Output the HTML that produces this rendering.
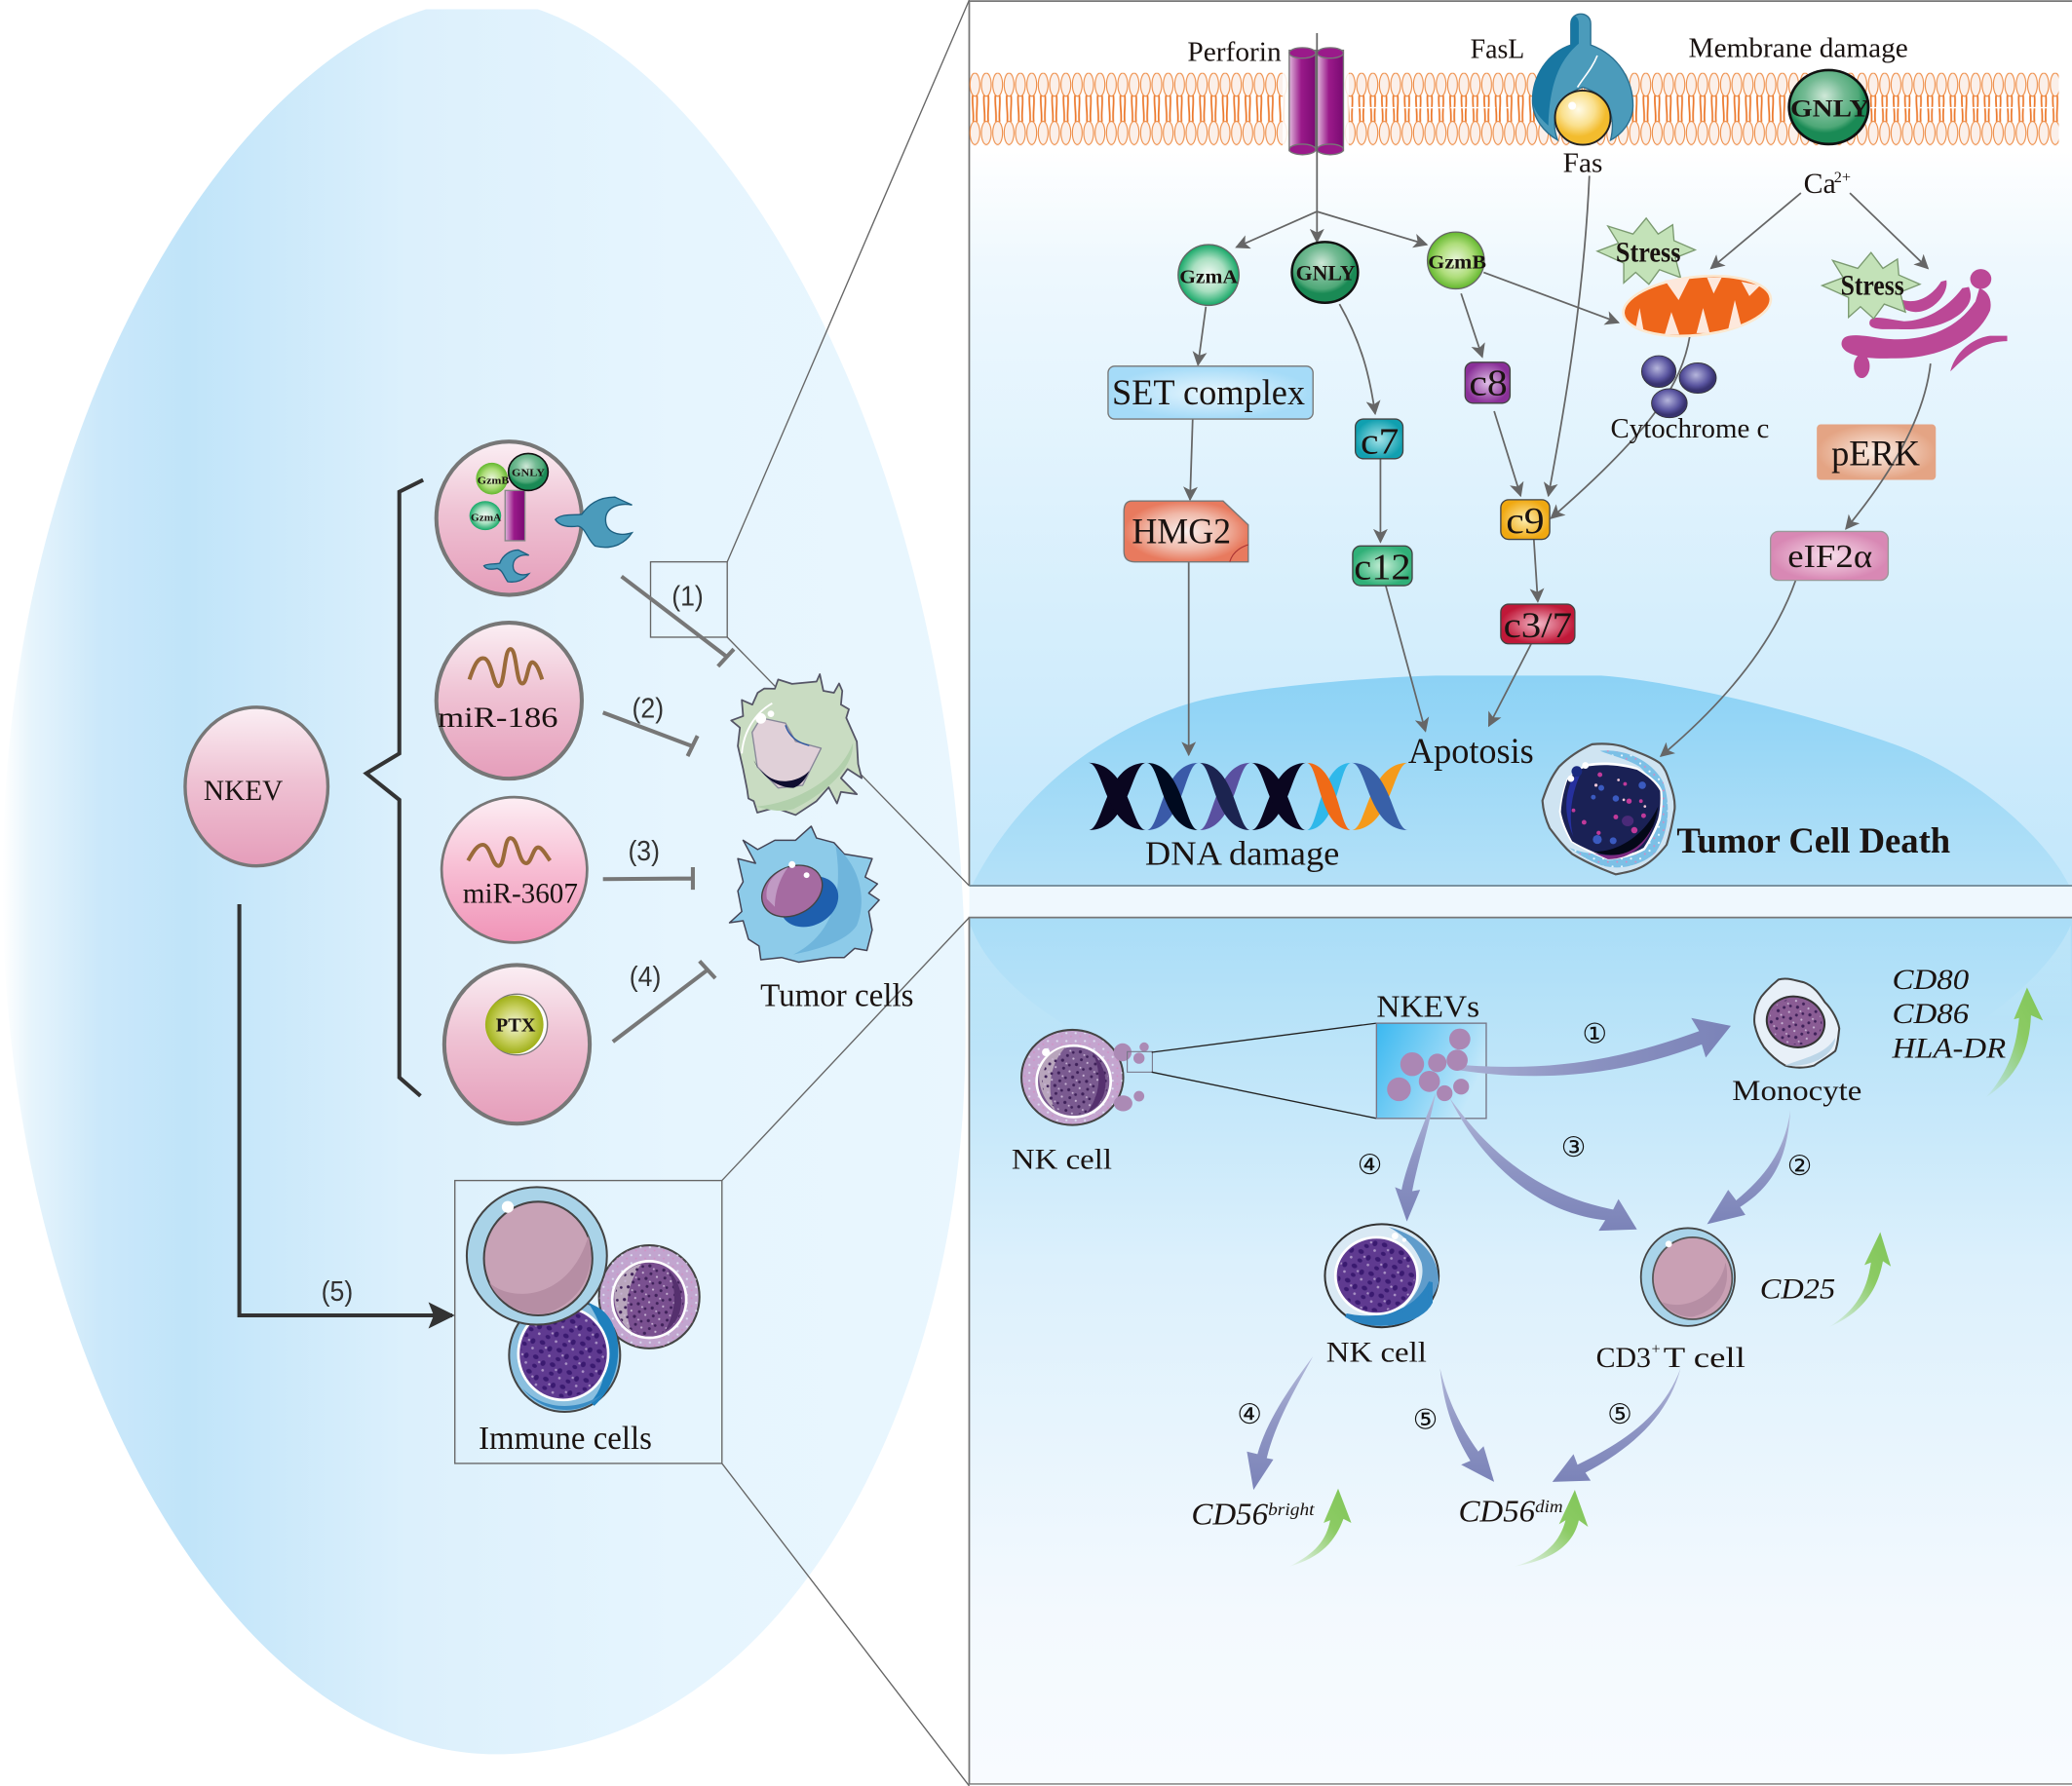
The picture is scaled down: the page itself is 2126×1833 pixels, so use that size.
<!DOCTYPE html>
<html lang="en"><head><meta charset="utf-8"><title>NKEV diagram</title>
<style>html,body{margin:0;padding:0;background:#fff}svg{display:block}text{font-family:"Liberation Serif",serif;fill:#1a1311}.s{font-family:"Liberation Sans",sans-serif;fill:#333}.c{font-family:"DejaVu Sans",sans-serif;fill:#111}</style></head>
<body>
<svg xmlns="http://www.w3.org/2000/svg" width="2126" height="1833" viewBox="0 0 1567 1351">
<defs>
<clipPath id="topclip"><rect x="-5" y="7" width="760" height="1344"/></clipPath>
<linearGradient id="bigbg" x1="0" x2="1" y1="0" y2="0"><stop offset="0" stop-color="#fff"/><stop offset=".03" stop-color="#e6f4fc"/><stop offset=".1" stop-color="#cbe8fa"/><stop offset=".19" stop-color="#c0e4f9"/><stop offset=".42" stop-color="#dcf0fc"/><stop offset=".7" stop-color="#e6f5fe"/><stop offset="1" stop-color="#e9f6fe"/></linearGradient>
<linearGradient id="topbg" x1="0" x2="0" y1="0" y2="1"><stop offset="0" stop-color="#fff"/><stop offset=".17" stop-color="#fff"/><stop offset=".3" stop-color="#eef8fe"/><stop offset="1" stop-color="#c3e7fb"/></linearGradient>
<linearGradient id="dome" x1="0" x2="0" y1="0" y2="1"><stop offset="0" stop-color="#8cd2f5"/><stop offset="1" stop-color="#b4e1f8"/></linearGradient>
<linearGradient id="botbg" x1="0" x2="0" y1="0" y2="1"><stop offset="0" stop-color="#a9ddf7"/><stop offset=".4" stop-color="#dcf0fc"/><stop offset=".8" stop-color="#f3f9fe"/><stop offset="1" stop-color="#f8fbff"/></linearGradient>
<linearGradient id="corner" x1="0" x2="0" y1="0" y2="1"><stop offset="0" stop-color="#fff" stop-opacity=".22"/><stop offset="1" stop-color="#fff" stop-opacity="0"/></linearGradient>
<linearGradient id="pink" x1="0" x2="0" y1="0" y2="1"><stop offset="0" stop-color="#fbeff4"/><stop offset=".45" stop-color="#efc3d4"/><stop offset="1" stop-color="#e59dba"/></linearGradient>
<linearGradient id="pink2" x1="0" x2="0" y1="0" y2="1"><stop offset="0" stop-color="#fdeef4"/><stop offset=".5" stop-color="#f7bdd3"/><stop offset="1" stop-color="#f093b7"/></linearGradient>
<radialGradient id="gA"><stop offset="0" stop-color="#f4fbf6"/><stop offset=".55" stop-color="#a8dfc0"/><stop offset="1" stop-color="#16a868"/></radialGradient>
<radialGradient id="gB"><stop offset="0" stop-color="#eaf6dc"/><stop offset=".6" stop-color="#aedd7a"/><stop offset="1" stop-color="#64b82e"/></radialGradient>
<radialGradient id="gN" cx=".45" cy=".35"><stop offset="0" stop-color="#cfe8d8"/><stop offset=".5" stop-color="#74bb94"/><stop offset=".85" stop-color="#4fa878"/><stop offset="1" stop-color="#1a8a55"/></radialGradient>
<radialGradient id="yel" cx=".42" cy=".35"><stop offset="0" stop-color="#fffbe8"/><stop offset=".6" stop-color="#fae08e"/><stop offset="1" stop-color="#f3bc2e"/></radialGradient>
<radialGradient id="bal" cx=".45" cy=".4"><stop offset="0" stop-color="#b6b6dc"/><stop offset=".7" stop-color="#5a55a0"/><stop offset="1" stop-color="#38336f"/></radialGradient>
<radialGradient id="ptx"><stop offset="0" stop-color="#f4f6dc"/><stop offset=".6" stop-color="#c8d060"/><stop offset="1" stop-color="#a0b018"/></radialGradient>
<linearGradient id="cyl" x1="0" x2="1" y1="0" y2="0"><stop offset="0" stop-color="#e0b8dc"/><stop offset=".45" stop-color="#9a1a8a"/><stop offset="1" stop-color="#7a0a72"/></linearGradient>
<radialGradient id="setb"><stop offset="0" stop-color="#e8f6fe"/><stop offset="1" stop-color="#a5dbf8"/></radialGradient>
<radialGradient id="hmg"><stop offset="0" stop-color="#f8f0ee"/><stop offset=".6" stop-color="#f0b8a8"/><stop offset="1" stop-color="#e87a5e"/></radialGradient>
<radialGradient id="c7b"><stop offset="0" stop-color="#a8e4ea"/><stop offset="1" stop-color="#10a0b0"/></radialGradient>
<radialGradient id="c12b"><stop offset="0" stop-color="#c8f0d8"/><stop offset="1" stop-color="#30b078"/></radialGradient>
<radialGradient id="c8b"><stop offset="0" stop-color="#e0c0e8"/><stop offset="1" stop-color="#8a3098"/></radialGradient>
<radialGradient id="c9b"><stop offset="0" stop-color="#fdeeb0"/><stop offset="1" stop-color="#f0a810"/></radialGradient>
<radialGradient id="c37b"><stop offset="0" stop-color="#f4b8c8"/><stop offset="1" stop-color="#c01838"/></radialGradient>
<radialGradient id="perk"><stop offset="0" stop-color="#fbeee6"/><stop offset="1" stop-color="#e4a484"/></radialGradient>
<radialGradient id="eif"><stop offset="0" stop-color="#f8e0ec"/><stop offset="1" stop-color="#d888b4"/></radialGradient>
<linearGradient id="vbox" x1="0" x2="1" y1="0" y2=".4"><stop offset="0" stop-color="#3ab8f0"/><stop offset="1" stop-color="#c4e8fa"/></linearGradient>
<linearGradient id="grn" x1="0" x2="1" y1="1" y2="0"><stop offset="0" stop-color="#8ccb64" stop-opacity=".05"/><stop offset=".6" stop-color="#8ccb64"/><stop offset="1" stop-color="#80c558"/></linearGradient>
<linearGradient id="fadeH" x1="0" x2="1" y1="0" y2="0"><stop offset="0" stop-color="#a9afd4"/><stop offset=".5" stop-color="#8a91c0"/><stop offset="1" stop-color="#7b83b8"/></linearGradient>
<linearGradient id="fadeV" x1="0" x2="0" y1="0" y2="1"><stop offset="0" stop-color="#b4bada"/><stop offset=".5" stop-color="#8f96c4"/><stop offset="1" stop-color="#7b83b8"/></linearGradient>
<pattern id="mem" patternUnits="userSpaceOnUse" x="733" y="55" width="8.6" height="55">
<path d="M2.6 17C2 24 3.6 30 3 37M5.8 17C6.6 24 5 30 5.8 37" fill="none" stroke="#ec7a2e" stroke-width="1.3"/>
<ellipse cx="4.3" cy="9" rx="3.7" ry="8.8" fill="#fbf0ea" stroke="#ee8a42" stroke-width=".8"/>
<ellipse cx="4.3" cy="45.5" rx="3.7" ry="8.8" fill="#fbf0ea" stroke="#ee8a42" stroke-width=".8"/>
</pattern>
<pattern id="dk" patternUnits="userSpaceOnUse" width="11" height="10" patternTransform="rotate(17)">
<circle cx="2" cy="2" r="1.2" fill="#3d2058"/><circle cx="8" cy="4" r="1" fill="#3d2058"/><circle cx="4.5" cy="7.5" r="1.1" fill="#3d2058"/><circle cx="9.5" cy="8.5" r=".8" fill="#c8b4d4"/><circle cx="5.5" cy="3.5" r=".7" fill="#c8b4d4"/>
</pattern>
<pattern id="dk2" patternUnits="userSpaceOnUse" width="14" height="12" patternTransform="rotate(25)">
<ellipse cx="3" cy="3" rx="2.2" ry="1.7" fill="#3a1a70"/><ellipse cx="10" cy="5" rx="1.8" ry="2.2" fill="#3a1a70"/><ellipse cx="5" cy="9.5" rx="1.9" ry="1.5" fill="#3a1a70"/><circle cx="12" cy="10" r="1" fill="#a890c4"/><circle cx="7" cy="5.5" r=".9" fill="#a890c4"/>
</pattern>
<pattern id="sp" patternUnits="userSpaceOnUse" width="7" height="6">
<circle cx="1.5" cy="1.5" r=".8" fill="#e6f6ff"/><circle cx="5" cy="4" r=".7" fill="#d48ac0"/>
</pattern>
<marker id="a" viewBox="0 0 10 10" refX="9" refY="5" markerWidth="11" markerHeight="11" markerUnits="userSpaceOnUse" orient="auto"><path d="M0 0L10 5L0 10L2.5 5Z" fill="#666"/></marker>
<marker id="ab" viewBox="0 0 10 10" refX="9" refY="5" markerWidth="20" markerHeight="20" markerUnits="userSpaceOnUse" orient="auto"><path d="M0 0L10 5L0 10L2 5Z" fill="#333"/></marker>
</defs>

<rect width="1567" height="1351" fill="#fff"/>
<!-- big background shape -->
<path clip-path="url(#topclip)" d="M367 0C205 0 2 290 2 665C0 1010 170 1327 375 1327C590 1327 735 1060 730 770C730 770 735 300 730 770C735 300 510 0 367 0Z" fill="url(#bigbg)"/>
<rect x="733" y="670" width="834" height="24" fill="#eff8fe"/>

<!-- top panel -->
<rect x="733" y="0" width="834" height="670" fill="url(#topbg)"/>
<path d="M735 670C755 630 785 598 811 578C845 552 880 537 907 530C945 520 1040 512 1086 511L1211 511C1270 516 1370 540 1438 565C1490 585 1545 630 1565 670Z" fill="url(#dome)"/>
<path d="M733 670V0.8H1567" fill="none" stroke="#777" stroke-width="1.3"/>
<path d="M733 670H1567" stroke="#6d8794" stroke-width="1.3"/>
<rect x="733" y="55" width="824" height="55" fill="url(#mem)"/>
<path d="M1021 81.5H1141M1414 81.5H1553" stroke="#fff" stroke-width="1" stroke-dasharray="34 4"/>
<rect x="970" y="50" width="50" height="64" fill="#fff" opacity=".85"/>

<!-- bottom panel -->
<rect x="733" y="694" width="834" height="656" fill="url(#botbg)"/>
<path d="M734 700C745 730 775 760 830 790L734 790Z" fill="url(#corner)"/>
<path d="M1566 700C1555 725 1530 750 1495 775L1566 775Z" fill="url(#corner)"/>
<path d="M733 1350V694H1567" fill="none" stroke="#777" stroke-width="1.3"/><path d="M733 1349.5H1567" stroke="#777" stroke-width="1"/>

<!-- zoom lines -->
<g fill="none" stroke="#666" stroke-width="1">
<rect x="492" y="425" width="58" height="57"/>
<path d="M550 425L733 0M550 482L733 670M546 893L733 694M546 1107L733 1351"/>
<rect x="344" y="893" width="202" height="214"/>
</g>

<!-- perforin -->
<rect x="975" y="38" width="20" height="76" fill="url(#cyl)" stroke="#777"/>
<rect x="996" y="38" width="20" height="76" fill="url(#cyl)" stroke="#777"/>
<ellipse cx="985" cy="40" rx="10" ry="4" fill="#9a1a8a" stroke="#777"/><ellipse cx="1006" cy="40" rx="10" ry="4" fill="#9a1a8a" stroke="#777"/>
<ellipse cx="985" cy="113" rx="10" ry="4" fill="#9a1a8a" stroke="#777"/><ellipse cx="1006" cy="113" rx="10" ry="4" fill="#9a1a8a" stroke="#777"/>

<!-- FasL / Fas -->
<path d="M1188 34V18C1188 8 1203 8 1203 18V34C1225 42 1235 62 1235 80C1235 92 1226 102 1218 106C1222 90 1218 72 1197 66C1178 72 1172 90 1178 106C1168 100 1159 90 1159 76C1159 58 1170 40 1188 34Z" fill="#4b9bbb" stroke="#2a6f90"/>
<path d="M1188 34V18C1188 10 1194 11 1194 18V33C1180 45 1172 62 1171 95C1163 88 1159 82 1159 74C1159 58 1170 40 1188 34Z" fill="#1877a2"/>
<path d="M1193 66C1198 58 1204 52 1208 42" fill="none" stroke="#fff" stroke-width="1.2"/>
<ellipse cx="1197" cy="89" rx="21" ry="20.5" fill="url(#yel)" stroke="#222" stroke-width="1.4"/>
<ellipse cx="1189" cy="80" rx="3" ry="3" fill="#fff"/>

<!-- membrane GNLY -->
<ellipse cx="1383" cy="81" rx="30" ry="28" fill="url(#gN)" stroke="#111" stroke-width="2"/>

<!-- thin arrows -->
<g fill="none" stroke="#666" stroke-width="1.3" marker-end="url(#a)">
<path d="M996 25V183"/>
<path d="M996 160L935 187"/>
<path d="M996 160L1079 185"/>
<path d="M912 232L906 276"/>
<path d="M1013 230C1030 260 1036 285 1040 313"/>
<path d="M1105 222L1121 270"/>
<path d="M1122 206L1224 244"/>
<path d="M1202 133C1198 220 1185 300 1171 375"/>
<path d="M1130 311L1150 375"/>
<path d="M1278 254C1272 290 1250 325 1173 392"/>
<path d="M1362 146L1294 203"/>
<path d="M1399 146L1458 203"/>
<path d="M902 317L900 378"/>
<path d="M899 425V571"/>
<path d="M1044 347V410"/>
<path d="M1048 443L1078 553"/>
<path d="M1160 408L1163 455"/>
<path d="M1158 487L1126 549"/>
<path d="M1358 439C1340 490 1300 535 1256 572"/>
</g>

<!-- granzymes -->
<ellipse cx="914" cy="208" rx="23" ry="23" fill="url(#gA)" stroke="#666" stroke-width="1"/>
<ellipse cx="1002" cy="206" rx="25" ry="23" fill="url(#gN)" stroke="#111" stroke-width="1.8"/>
<ellipse cx="1101" cy="197" rx="21.5" ry="21.5" fill="url(#gB)" stroke="#666" stroke-width="1"/>

<!-- stress -->
<polygon transform="translate(1245,190)" points="0,-25 9,-13 20,-20 21,-8 37,-1 22,5 26,20 10,14 2,25 -8,16 -17,24 -17,9 -37,0 -21,-6 -29,-19 -10,-13" fill="#c3e2b8" stroke="#7b9a70"/>

<!-- mitochondrion -->
<ellipse cx="1283.5" cy="231.5" rx="56" ry="22" transform="rotate(-6 1283 232)" fill="#ee651a" stroke="#fbe8d0" stroke-width="2"/>
<g fill="#fde8dc">
<polygon points="1259,212 1278,210 1269.5,227"/><polygon points="1291,210 1302,210 1296,222"/><polygon points="1317,213 1331,216 1323,224"/>
<polygon points="1237,248 1243,250 1240,233"/><polygon points="1259,253 1270,253 1264,236"/><polygon points="1283,252 1293,252 1288,233"/><polygon points="1307,249 1317,247 1312,227"/>
</g>

<!-- ER -->
<g fill="#bb4896">
<path d="M1393 258C1395 252 1405 253 1424 256C1450 259 1478 252 1494 228L1497 218C1503 220 1507 226 1505 235C1495 258 1465 272 1430 271C1410 272 1390 268 1393 258Z"/>
<path d="M1414 243C1416 238 1425 241 1440 243C1455 243 1472 234 1484 218L1489 217C1492 225 1490 230 1484 236C1473 246 1455 250 1435 249C1425 249 1412 250 1414 243Z"/>
<path d="M1434 224C1442 231 1458 229 1468 213L1472 212C1474 222 1462 236 1449 236C1442 236 1436 232 1434 224Z"/>
<path d="M1475 281C1478 268 1490 256 1505 254L1518 254L1518 258C1500 258 1488 268 1475 281Z"/>
<ellipse cx="1498" cy="211" rx="8" ry="7.5"/><ellipse cx="1408" cy="277" rx="6" ry="9"/>
</g>
<polygon transform="translate(1415,216)" points="0,-25 9,-13 20,-20 21,-8 37,-1 22,5 26,20 10,14 2,25 -8,16 -17,24 -17,9 -37,0 -21,-6 -29,-19 -10,-13" fill="#c3e2b8" stroke="#7b9a70"/>

<!-- cytochrome -->
<ellipse cx="1254.5" cy="281" rx="13" ry="12" fill="url(#bal)" stroke="#333" stroke-width=".6"/>
<ellipse cx="1284" cy="286" rx="14" ry="11.5" fill="url(#bal)" stroke="#333" stroke-width=".6"/>
<ellipse cx="1262.5" cy="305" rx="13.5" ry="11" fill="url(#bal)" stroke="#333" stroke-width=".6"/>

<!-- boxes -->
<rect x="838" y="277" width="155" height="40" rx="5" fill="url(#setb)" stroke="#777"/>
<path d="M856 379H925L944 397V425H858Q850 425 850 417V387Q850 379 856 379Z" fill="url(#hmg)" stroke="#777"/>
<path d="M930 425C932 418 938 414 944 412" fill="none" stroke="#a33" stroke-width=".8"/>
<rect x="1025" y="317" width="36" height="30" rx="6" fill="url(#c7b)" stroke="#444"/>
<rect x="1023" y="413" width="45" height="30" rx="6" fill="url(#c12b)" stroke="#444"/>
<rect x="1108" y="274" width="34" height="31" rx="6" fill="url(#c8b)" stroke="#444"/>
<rect x="1135" y="378" width="37" height="30" rx="6" fill="url(#c9b)" stroke="#444"/>
<rect x="1135" y="457" width="56" height="30" rx="6" fill="url(#c37b)" stroke="#444"/>
<rect x="1374" y="321" width="90" height="42" rx="3" fill="url(#perk)"/>
<rect x="1339" y="402" width="89" height="37" rx="6" fill="url(#eif)" stroke="#999"/>
<path d="M1460 275C1455 320 1425 365 1396 400" fill="none" stroke="#666" stroke-width="1.3" marker-end="url(#a)"/>

<!-- DNA -->
<path d="M867 628C895.5 628 895.5 577 906.6 577C878 577 878 628 867 628Z" fill="#3a5aa8"/>
<path d="M867 577C895.5 577 895.5 628 906.6 628C878 628 878 577 867 577Z" fill="#000a1f"/>
<path d="M906.6 628C935 628 935 577 946 577C917.6 577 917.6 628 906.6 628Z" fill="#5a50a0"/>
<path d="M906.6 577C935 577 935 628 946 628C917.6 628 917.6 577 906.6 577Z" fill="#1c2450"/>
<path d="M823 628C855 628 855 577 867 577C835 577 835 628 823 628Z" fill="#0a0620"/>
<path d="M823 577C855 577 855 628 867 628C835 628 835 577 823 577Z" fill="#0a0620"/>
<path d="M946 628C976 628 976 577 988 577C958 577 958 628 946 628Z" fill="#0a0620"/>
<path d="M946 577C976 577 976 628 988 628C958 628 958 577 946 577Z" fill="#0a0620"/>
<path d="M988 628C1012.5 628 1012.5 577 1022 577C997.5 577 997.5 628 988 628Z" fill="#2fb8ea"/>
<path d="M988 577C1012.5 577 1012.5 628 1022 628C997.5 628 997.5 577 988 577Z" fill="#f06a16"/>
<path d="M1022 628C1053 628 1053 577 1065 577C1034 577 1034 628 1022 628Z" fill="#f59a1a"/>
<path d="M1022 577C1053 577 1053 628 1065 628C1034 628 1034 577 1022 577Z" fill="#3860a8"/>

<!-- dead cell -->
<path d="M1204 563C1215 562 1222 563 1228.5 565C1238 569 1248 572 1255.5 577.4C1260 582 1261 587 1262.8 592C1265 598 1267 605 1266.5 612C1265 622 1263 631 1260.4 639C1255 646 1250 651 1243 655C1236 659 1229 660 1222 661.4C1210 657 1199 652 1189 646C1182 640 1177 633 1172 626.5C1169 620 1167 613 1166.5 605.6C1170 595 1173 588 1179 580C1187 572 1195 567 1204 563Z" fill="#cfe4f2" stroke="#555" stroke-width="1.6"/>
<path d="M1210 568C1230 566 1250 576 1258 592C1264 610 1262 630 1252 645C1240 656 1220 660 1205 652C1192 646 1186 640 1184 640C1205 650 1240 650 1252 625C1256 610 1256 595 1240 580C1230 574 1220 572 1210 568Z" fill="#7cc0e6"/>
<path d="M1210 568C1230 566 1250 576 1258 592C1264 610 1262 630 1252 645C1240 656 1220 660 1205 652C1192 646 1186 640 1184 640C1205 650 1240 650 1252 625C1256 610 1256 595 1240 580C1230 574 1220 572 1210 568Z" fill="url(#sp)"/>
<path d="M1200 578C1215 575 1230 578 1238 580.5C1247 586 1255 592 1257 598C1258 606 1257 613 1256 620C1252 630 1248 637 1244 643C1235 648 1225 650 1216 650.5C1206 647 1196 642 1188 637C1184 630 1180 622 1179 614C1180 605 1182 597 1185 589C1190 584 1195 580 1200 578Z" fill="#fff"/>
<path d="M1200 580C1215 577 1230 580 1238 582.3C1246 587 1252 592 1255.5 598.3C1256 606 1255.5 613 1254 619C1251 628 1247 635 1243 641.3C1235 646 1225 648 1216 648.6C1206 645 1197 641 1189 636.3C1185 629 1182 622 1180.5 614.2C1181 605 1183 597 1185.5 589.7C1190 585 1195 582 1200 580Z" fill="#1a2155"/>
<path d="M1189 589C1184 600 1182 615 1190 633C1186 620 1188 600 1196 584Z" fill="#26309e"/>
<path d="M1254 610C1252 625 1245 638 1235 644C1225 648 1212 647 1205 644C1225 645 1245 630 1254 610Z" fill="#040818"/>
<path d="M1205 645C1222 650 1240 646 1250 625C1245 640 1232 650 1216 650Z" fill="#7a2a80"/>
<circle cx="1192.5" cy="583.5" r="4" fill="#1a2a80"/><circle cx="1188" cy="589" r="2.5" fill="#fff"/><circle cx="1199" cy="579" r="2.5" fill="#fff"/>
<g fill="#c03a9a"><circle cx="1210" cy="586" r="1.8"/><circle cx="1232" cy="606" r="2"/><circle cx="1198" cy="622" r="1.8"/><circle cx="1243" cy="617" r="1.8"/><circle cx="1236" cy="628" r="2.4"/><circle cx="1222" cy="618" r="1.8"/><circle cx="1241" cy="606" r="1.4"/><circle cx="1209" cy="630" r="1.6"/><circle cx="1229" cy="593" r="1.4"/><circle cx="1190" cy="613" r="1.4"/></g>
<g fill="#3a5ac0"><circle cx="1222" cy="604" r="2.4"/><circle cx="1211" cy="596" r="2.2"/><circle cx="1208" cy="635" r="3.4"/><circle cx="1220" cy="636" r="2.6"/><circle cx="1242" cy="594" r="2.8"/><circle cx="1205" cy="603" r="1.8"/></g>
<g fill="#f0c8d8"><circle cx="1207" cy="594" r="1.2"/><circle cx="1224" cy="590" r="1"/><circle cx="1228" cy="605" r="1"/><circle cx="1244" cy="610" r="1"/></g>
<ellipse cx="1231" cy="621" rx="4.5" ry="4" fill="#4a2a78"/>

<!-- NKEV and cells -->
<ellipse cx="194" cy="595" rx="54" ry="60" fill="url(#pink)" stroke="#777" stroke-width="2.5"/>
<ellipse cx="385" cy="392" rx="55" ry="58" fill="url(#pink)" stroke="#777" stroke-width="3"/>
<ellipse cx="385" cy="530" rx="55" ry="59" fill="url(#pink)" stroke="#777" stroke-width="3"/>
<ellipse cx="389" cy="658" rx="55" ry="55" fill="url(#pink2)" stroke="#777" stroke-width="2"/>
<ellipse cx="391" cy="790" rx="55" ry="60" fill="url(#pink)" stroke="#777" stroke-width="3"/>

<!-- brace -->
<path d="M320 363L302 372V570L277 585L302 605V815L318 829" fill="none" stroke="#333" stroke-width="3"/>

<!-- cell 1 contents -->
<ellipse cx="372" cy="362" rx="12" ry="12" fill="url(#gB)"/>
<rect x="382" y="371" width="15" height="38" fill="url(#cyl)" stroke="#888"/>
<ellipse cx="399.5" cy="357" rx="15" ry="14" fill="url(#gN)" stroke="#111" stroke-width="1.2"/>
<ellipse cx="367" cy="390" rx="12" ry="11" fill="url(#gA)"/>
<path d="M420 393C425 388 435 390 440 389C445 382 452 376 465 376L478 382C468 380 458 384 458 393C458 403 468 406 478 403C472 412 462 416 450 413C444 408 443 399 437 398C430 399 423 398 420 393Z" fill="#4b9bbb" stroke="#1d5f80" stroke-width="1"/>
<path d="M366 428C369 426 375 427 378 426C380 420 386 416 392 416L400 420C394 419 388 422 388 428C388 434 394 436 400 434C396 439 390 441 384 440C381 436 380 431 376 430C372 431 368 431 366 428Z" fill="#4b9bbb" stroke="#1d5f80" stroke-width="1"/>

<!-- miR -->
<path d="M355 514C359 502 362 497 366 498C372 499 373 519 377 519C382 519 381 491 386 491C391 491 390 517 395 517C399 517 399 500 403 501C406 502 408 508 410 514" fill="none" stroke="#9a6a3a" stroke-width="3"/>
<path d="M354 651C358 644 361 639 365 639C371 639 372 655 377 655C382 655 381 634 386 634C392 634 392 653 398 653C402 653 403 641 407 641C410 641 413 647 416 651" fill="none" stroke="#9a6a3a" stroke-width="3"/>

<!-- PTX -->
<ellipse cx="391" cy="775" rx="23" ry="23" fill="#fff" stroke="#777"/>
<ellipse cx="389" cy="775" rx="22" ry="22" fill="url(#ptx)"/>

<!-- inhibition -->
<g stroke="#777" stroke-width="3" fill="none">
<path d="M470 436L550 497M543 504L555 491"/>
<path d="M456 539L525 565M520 572L527.5 556.6"/>
<path d="M456 665L524 664.5M524 656V673"/>
<path d="M463.5 788L536 733M529 727L541 740"/>
</g>

<!-- (5) arrow -->
<path d="M181 684V995H342" fill="none" stroke="#333" stroke-width="3" marker-end="url(#ab)"/>

<!-- green tumor cell -->
<path d="M586 521L588.5 514L599 517.3L617.5 515.6L620 510L622.7 522.6L630.7 524L634.6 517L637 522.6L636 533L642 536.5L640 543L648 561L649 578L651.7 588.6L641 581.7L636 588.6L648 600.8L636 599L633 607.8L626.7 595.6L617.5 606L601.7 616.5L586 611L572.7 614.7L570 606L566 604L565 597L562 581.7L558 564.3L559.6 550.4L553 545L562 541.7L561 529.5L569 533L573 524L578 520.8Z" fill="#c9dcc2" stroke="#556" stroke-width="1.3" stroke-linejoin="round"/>
<path d="M645 562C646 580 625 600 600 612C590 615 578 612 572 610C600 608 635 590 645 562Z" fill="#b2d0ac"/>
<path d="M561 570C562 555 570 540 584 532" fill="none" stroke="#fff" stroke-width="1.4"/>
<path d="M568.8 554L575.4 543L594 547L601.7 560.8L621 566L615 578L607 594L588.5 596L572.7 580Z" fill="#e0d0d8" stroke="#889" stroke-width="1" stroke-linejoin="round"/>
<path d="M570 575C578 590 590 596 600 596C606 594 610 588 612 583C606 590 592 594 582 588C576 584 572 580 570 575Z" fill="#0e0e30"/>
<path d="M594 548.6C597 558 604 562 612 564" fill="none" stroke="#2a55a0" stroke-width="1"/>
<circle cx="575.4" cy="543.4" r="4" fill="#fff"/><circle cx="583" cy="540" r="2.5" fill="#fff"/>

<!-- blue tumor cell -->
<path d="M562 635.6L573 642.6L586 635.6L601.7 635.6L613.5 625L617.5 633.9L630.7 637.4L638.5 646L659.6 649.5L654.3 663.4L663.6 668.6L657 675.6L664.9 680.8L657 689.5L659.6 703.4L655.6 719L646.4 717.4L638.5 724.3L628 724.3L604 727.8L591 724.3L575.4 726L574 715.6L566 710.4L562 696.5L551.7 698L561 689.5L558 673.9L562 667L558 649.5L571.4 653Z" fill="#8dcbe9" stroke="#445" stroke-width="1.1" stroke-linejoin="round"/>
<path d="M632 640C650 655 656 680 648 700C640 712 620 718 600 722C620 712 640 690 632 640Z" fill="#6fb5dc"/>
<ellipse cx="612" cy="682" rx="23" ry="18" transform="rotate(-28 612 682)" fill="#1e5fae"/>
<ellipse cx="599" cy="674" rx="24" ry="18" transform="rotate(-28 599 674)" fill="#a56ba1" stroke="#444" stroke-width="1"/>
<path d="M580 680C578 668 586 660 596 656C590 664 586 675 586 686Z" fill="#c09ac4"/>
<circle cx="599" cy="654" r="2.6" fill="#fff"/><circle cx="610" cy="662" r="2.2" fill="#fff"/>

<!-- immune cells -->
<ellipse cx="491" cy="981" rx="38" ry="39" fill="#c2a5cf" stroke="#444" stroke-width="1.5"/>
<ellipse cx="491" cy="981" rx="38" ry="39" fill="url(#sp)" opacity=".7"/>
<ellipse cx="491" cy="983" rx="28" ry="29" fill="#7a5090" stroke="#fff" stroke-width="2"/>
<path d="M465 975C468 965 476 958 485 956C476 968 470 990 478 1008C468 1000 463 988 465 975Z" fill="#b8a5bc"/>
<ellipse cx="491" cy="983" rx="26" ry="27" fill="url(#dk)"/>
<path d="M505 960C520 975 518 998 503 1007C512 990 512 975 505 960Z" fill="#55306e"/>
<ellipse cx="427" cy="1025" rx="42" ry="43" fill="#8abfdf" stroke="#444" stroke-width="1.5"/>
<path d="M450 990C470 1000 472 1040 448 1062C465 1045 462 1010 450 990Z" fill="#1f80bd" stroke="#1f80bd" stroke-width="4"/>
<path d="M395 1050C410 1066 435 1068 455 1055C440 1072 410 1070 395 1050Z" fill="#3a8cc4"/>
<ellipse cx="426" cy="1024" rx="34" ry="35" fill="#5f3a90" stroke="#fff" stroke-width="2"/>
<ellipse cx="426" cy="1024" rx="32" ry="33" fill="url(#dk2)"/>
<ellipse cx="406" cy="950" rx="53" ry="52" fill="#a9d3e8" stroke="#444" stroke-width="1.5"/>
<ellipse cx="407" cy="952" rx="41" ry="43" fill="#c8a2b6" stroke="#444" stroke-width="1.5"/>
<path d="M445 935C452 960 440 985 412 994C390 995 375 982 370 970C385 985 430 985 445 935Z" fill="#b68ea4"/>
<circle cx="384" cy="913" r="4.5" fill="#fff"/>

<!-- NK cell left -->
<ellipse cx="811" cy="815" rx="38.5" ry="36" fill="#c4a5cf" stroke="#444" stroke-width="1.5"/>
<ellipse cx="811" cy="815" rx="38" ry="35" fill="url(#sp)" opacity=".7"/>
<ellipse cx="812" cy="818" rx="28" ry="27" fill="#7a5a90" stroke="#fff" stroke-width="2"/>
<path d="M786 812C788 802 796 794 806 792C796 802 790 822 798 840C790 833 785 822 786 812Z" fill="#b8a5bc"/>
<ellipse cx="813" cy="818" rx="25" ry="25" fill="url(#dk)"/>
<path d="M826 796C842 812 838 835 822 842C832 828 834 812 826 796Z" fill="#55306e"/>
<circle cx="791" cy="796" r="3" fill="#fff"/>
<g fill="#ab8ab5"><circle cx="849" cy="796" r="6.8"/><circle cx="865.3" cy="792" r="3.5"/><circle cx="861.4" cy="800.5" r="4.2"/><ellipse cx="849.4" cy="834.6" rx="7" ry="6"/><circle cx="861.4" cy="829.2" r="4"/></g>
<rect x="852.5" y="795.5" width="19" height="15.5" fill="none" stroke="#778" stroke-width=".8"/>
<path d="M871 796L1041 774M871 811L1041 846" fill="none" stroke="#222" stroke-width="1"/>

<!-- NKEV box -->
<rect x="1041" y="774" width="83" height="72" fill="url(#vbox)" stroke="#778" stroke-width="1"/>

<!-- thick arrows -->
<path d="M1100 805C1175 812 1230 800 1285 780L1279 770L1309 776L1290 800L1287 790C1230 812 1170 820 1100 809Z" fill="url(#fadeH)"/>
<g fill="url(#fadeV)">
<path d="M1354 840C1350 870 1335 890 1313 908L1307 900L1291 926L1320 919L1316 913C1345 895 1352 870 1354 840Z"/>
<path d="M1096 830C1130 878 1170 905 1220 915L1224 907L1238 930L1209 931L1214 923C1165 918 1122 882 1096 830Z"/>
<path d="M1086 826C1075 855 1064 880 1060 900L1055 898L1064 924L1074 900L1068 901C1072 880 1080 855 1086 826Z"/>
<path d="M993 1026C975 1050 958 1075 951 1100L943 1098L948 1127L963 1104L958 1103C965 1075 980 1050 993 1026Z"/>
<path d="M1089 1035C1092 1065 1100 1085 1112 1105L1105 1108L1130 1121L1122 1094L1118 1098C1105 1080 1095 1060 1089 1035Z"/>
<path d="M1271 1035C1258 1070 1230 1090 1193 1108L1190 1100L1174 1121L1203 1120L1199 1114C1235 1095 1262 1070 1271 1035Z"/>
</g>
<g fill="#ab87b4"><circle cx="1104" cy="786" r="8"/><circle cx="1068" cy="805" r="9"/><circle cx="1087" cy="804" r="7"/><circle cx="1102" cy="802" r="8"/><circle cx="1081" cy="818" r="8"/><circle cx="1058" cy="824" r="9"/><circle cx="1092.5" cy="827" r="6"/><circle cx="1105" cy="822" r="6"/></g>

<!-- green arrows -->
<g fill="url(#grn)">
<path d="M1502 830C1520 810 1525 790 1527 770L1523 771L1533 747L1545 772L1536 768C1535 795 1525 815 1502 830Z"/>
<path d="M1383 1004C1405 990 1412 975 1415 955L1410 957L1422 932L1430 958L1424 954C1420 975 1410 992 1383 1004Z"/>
<path d="M975 1185C995 1175 1003 1165 1006 1150L1001 1152L1012 1126L1022 1152L1016 1149C1010 1165 1000 1178 975 1185Z"/>
<path d="M1145 1185C1170 1178 1180 1165 1184 1150L1179 1153L1191 1127L1201 1155L1194 1150C1190 1168 1175 1180 1145 1185Z"/>
</g>

<!-- monocyte -->
<path d="M1345 741C1352 739 1358 742 1364 743C1372 746 1376 752 1380 758C1386 764 1390 772 1391 778C1390 786 1390 790 1388 795C1382 800 1376 803 1372 806C1365 808 1357 808 1350 806C1343 802 1338 797 1334 792C1330 786 1328 780 1327 775C1326 768 1328 760 1332 754C1336 749 1340 745 1345 741Z" fill="#e8f0f8" stroke="#444" stroke-width="1.5"/>
<path d="M1350 806C1365 800 1380 798 1388 785C1388 795 1375 808 1350 806Z" fill="#bcd6e8"/>
<ellipse cx="1358" cy="773" rx="22" ry="19" transform="rotate(15 1358 773)" fill="#8a5c94" stroke="#333" stroke-width="1.5"/>
<ellipse cx="1358" cy="773" rx="20" ry="17" transform="rotate(15 1358 773)" fill="url(#dk)"/>

<!-- NK right -->
<ellipse cx="1045" cy="965" rx="43" ry="39" fill="#d9e9f4" stroke="#333" stroke-width="1.5"/>
<path d="M1050 928C1075 935 1088 950 1088 970C1084 990 1060 1002 1040 1002C1060 995 1080 975 1075 955C1070 942 1060 933 1050 928Z" fill="#5f9ccb"/>
<path d="M1082 985C1075 1000 1040 1008 1018 995C1040 1000 1070 995 1082 970Z" fill="#2a83c0" stroke="#2a83c0" stroke-width="3"/>
<ellipse cx="1041" cy="965" rx="31" ry="29" fill="#5f3a90" stroke="#fff" stroke-width="2"/>
<ellipse cx="1041" cy="965" rx="29" ry="27" fill="url(#dk2)"/>
<circle cx="1055" cy="935" r="2.5" fill="#fff"/><circle cx="1062" cy="938" r="1.5" fill="#fff"/>

<!-- T cell right -->
<ellipse cx="1276.5" cy="966" rx="35.5" ry="37" fill="#a9d4ea" stroke="#444" stroke-width="1.3"/>
<ellipse cx="1280" cy="967" rx="30" ry="31" fill="#c9a0b4" stroke="#555" stroke-width="1.3"/>
<path d="M1305 955C1310 975 1298 992 1280 996C1270 997 1260 990 1257 985C1275 992 1300 980 1305 955Z" fill="#b68ea4"/>
<circle cx="1262" cy="941" r="2.5" fill="#fff"/>

<!-- labels -->
<text x="898" y="46" font-size="21" textLength="71" lengthAdjust="spacingAndGlyphs">Perforin</text>
<text x="1112" y="44" font-size="21" textLength="41" lengthAdjust="spacingAndGlyphs">FasL</text>
<text x="1277" y="43" font-size="21" textLength="166" lengthAdjust="spacingAndGlyphs">Membrane damage</text>
<text x="1182" y="130" font-size="21" textLength="30" lengthAdjust="spacingAndGlyphs">Fas</text>
<text x="1364" y="146" font-size="22">Ca</text><text x="1387" y="138" font-size="12">2+</text>
<text x="1354" y="88" font-size="19" font-weight="bold" textLength="60" lengthAdjust="spacingAndGlyphs">GNLY</text>
<text x="892" y="214" font-size="15" font-weight="bold" textLength="44" lengthAdjust="spacingAndGlyphs">GzmA</text>
<text x="980" y="212" font-size="16" font-weight="bold" textLength="45" lengthAdjust="spacingAndGlyphs">GNLY</text>
<text x="1080" y="203" font-size="15" font-weight="bold" textLength="44" lengthAdjust="spacingAndGlyphs">GzmB</text>
<text x="1222" y="198" font-size="22" font-weight="bold" textLength="49" lengthAdjust="spacingAndGlyphs">Stress</text>
<text x="1392" y="223" font-size="22" font-weight="bold" textLength="48" lengthAdjust="spacingAndGlyphs">Stress</text>
<text x="841" y="306" font-size="27" textLength="146" lengthAdjust="spacingAndGlyphs">SET complex</text>
<text x="856" y="411" font-size="27" textLength="75" lengthAdjust="spacingAndGlyphs">HMG2</text>
<text x="1029" y="343" font-size="28" textLength="29" lengthAdjust="spacingAndGlyphs">c7</text>
<text x="1024" y="438" font-size="28" textLength="43" lengthAdjust="spacingAndGlyphs">c12</text>
<text x="1111" y="299" font-size="28" textLength="29" lengthAdjust="spacingAndGlyphs">c8</text>
<text x="1139" y="403" font-size="28" textLength="29" lengthAdjust="spacingAndGlyphs">c9</text>
<text x="1137" y="482" font-size="27" textLength="52" lengthAdjust="spacingAndGlyphs">c3/7</text>
<text x="1385" y="352" font-size="27" textLength="67" lengthAdjust="spacingAndGlyphs">pERK</text>
<text x="1352" y="429" font-size="25" textLength="64" lengthAdjust="spacingAndGlyphs">eIF2α</text>
<text x="1218" y="331" font-size="21" textLength="120" lengthAdjust="spacingAndGlyphs">Cytochrome c</text>
<text x="1065" y="577" font-size="27" textLength="95" lengthAdjust="spacingAndGlyphs">Apotosis</text>
<text x="866" y="654" font-size="26" textLength="147" lengthAdjust="spacingAndGlyphs">DNA damage</text>
<text x="1268" y="645" font-size="27" font-weight="bold" textLength="207" lengthAdjust="spacingAndGlyphs">Tumor Cell Death</text>

<text x="154" y="605" font-size="22" textLength="60" lengthAdjust="spacingAndGlyphs">NKEV</text>
<text x="331" y="550" font-size="22" textLength="91" lengthAdjust="spacingAndGlyphs">miR-186</text>
<text x="350" y="683" font-size="22" textLength="87" lengthAdjust="spacingAndGlyphs">miR-3607</text>
<text x="375" y="780" font-size="15" font-weight="bold" textLength="30" lengthAdjust="spacingAndGlyphs">PTX</text>
<text x="361" y="366" font-size="8" font-weight="bold" textLength="24" lengthAdjust="spacingAndGlyphs" fill="#166">GzmB</text>
<text x="387" y="360" font-size="8" font-weight="bold" textLength="25" lengthAdjust="spacingAndGlyphs">GNLY</text>
<text x="356" y="394" font-size="8" font-weight="bold" textLength="23" lengthAdjust="spacingAndGlyphs">GzmA</text>
<text class="s" x="508" y="458" font-size="21" textLength="24" lengthAdjust="spacingAndGlyphs">(1)</text>
<text class="s" x="478" y="543" font-size="21" textLength="24" lengthAdjust="spacingAndGlyphs">(2)</text>
<text class="s" x="475" y="651" font-size="21" textLength="24" lengthAdjust="spacingAndGlyphs">(3)</text>
<text class="s" x="476" y="746" font-size="21" textLength="24" lengthAdjust="spacingAndGlyphs">(4)</text>
<text class="s" x="243" y="984" font-size="21" textLength="24" lengthAdjust="spacingAndGlyphs">(5)</text>
<text x="575" y="761" font-size="25" textLength="116" lengthAdjust="spacingAndGlyphs">Tumor cells</text>
<text x="362" y="1096" font-size="25" textLength="131" lengthAdjust="spacingAndGlyphs">Immune cells</text>

<text x="1041" y="769" font-size="23" textLength="78" lengthAdjust="spacingAndGlyphs">NKEVs</text>
<text x="765" y="884" font-size="22" textLength="76" lengthAdjust="spacingAndGlyphs">NK cell</text>
<text x="1310" y="832" font-size="22" textLength="98" lengthAdjust="spacingAndGlyphs">Monocyte</text>
<text x="1003" y="1030" font-size="22" textLength="76" lengthAdjust="spacingAndGlyphs">NK cell</text>
<text x="1207" y="1034" font-size="22">CD3</text><text x="1249" y="1024" font-size="12">+</text><text x="1258" y="1034" font-size="22" textLength="62" lengthAdjust="spacingAndGlyphs">T cell</text>
<g font-style="italic">
<text x="1431" y="748" font-size="22" font-style="italic" textLength="58" lengthAdjust="spacingAndGlyphs">CD80</text>
<text x="1431" y="774" font-size="22" font-style="italic" textLength="58" lengthAdjust="spacingAndGlyphs">CD86</text>
<text x="1431" y="800" font-size="22" font-style="italic" textLength="86" lengthAdjust="spacingAndGlyphs">HLA-DR</text>
<text x="1331" y="982" font-size="22" font-style="italic" textLength="57" lengthAdjust="spacingAndGlyphs">CD25</text>
<text x="901" y="1153" font-size="23" font-style="italic" textLength="58" lengthAdjust="spacingAndGlyphs">CD56</text><text x="959" y="1146" font-size="13" font-style="italic" textLength="35" lengthAdjust="spacingAndGlyphs">bright</text>
<text x="1103" y="1151" font-size="23" font-style="italic" textLength="58" lengthAdjust="spacingAndGlyphs">CD56</text><text x="1161" y="1144" font-size="13" font-style="italic" textLength="21" lengthAdjust="spacingAndGlyphs">dim</text>
</g>
<g text-anchor="middle" font-size="21">
<text class="c" x="1206" y="789">①</text><text class="c" x="1361" y="889">②</text><text class="c" x="1190" y="875">③</text><text class="c" x="1036" y="888">④</text><text class="c" x="945" y="1077">④</text><text class="c" x="1078" y="1081">⑤</text><text class="c" x="1225" y="1077">⑤</text>
</g>
</svg>
</body></html>
